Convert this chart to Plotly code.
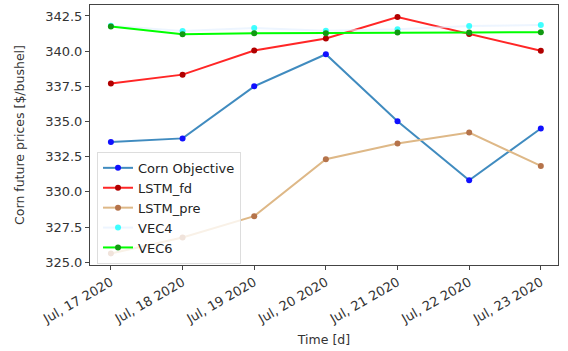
import plotly.graph_objects as go

# Daily corn futures: observed price and model forecasts
dates = ["2020-07-17", "2020-07-18", "2020-07-19", "2020-07-20",
         "2020-07-21", "2020-07-22", "2020-07-23"]
tick_labels = ["Jul, 17 2020", "Jul, 18 2020", "Jul, 19 2020", "Jul, 20 2020",
               "Jul, 21 2020", "Jul, 22 2020", "Jul, 23 2020"]
y_ticks = [325.0, 327.5, 330.0, 332.5, 335.0, 337.5, 340.0, 342.5]

corn_objective = [333.55, 333.8, 337.5, 339.78, 335.02, 330.82, 334.5]
lstm_fd = [337.7, 338.33, 340.05, 340.9, 342.43, 341.22, 340.03]
lstm_pre = [325.62, 326.76, 328.27, 332.32, 333.43, 334.22, 331.84]
vec4 = [341.8, 341.43, 341.65, 341.45, 341.55, 341.78, 341.85]
vec6 = [341.75, 341.2, 341.28, 341.28, 341.32, 341.33, 341.35]

series = [
    ("Corn Objective", corn_objective, "rgba(31,119,180,0.85)", "#1010ff"),
    ("LSTM_fd", lstm_fd, "rgba(255,0,0,0.85)", "#b00000"),
    ("LSTM_pre", lstm_pre, "rgba(222,184,135,1)", "#b5734a"),
    ("VEC4", vec4, "rgba(225,238,255,0.6)", "rgba(0,255,255,0.75)"),
    ("VEC6", vec6, "rgba(0,255,0,1)", "#119911"),
]

fig = go.Figure()
for name, values, line_color, marker_color in series:
    fig.add_trace(go.Scatter(
        x=dates, y=values, name=name, mode="lines+markers",
        line=dict(color=line_color, width=2),
        marker=dict(color=marker_color, size=6),
    ))

axis_common = dict(
    showgrid=False, zeroline=False, showline=True, mirror=True,
    linecolor="#444", linewidth=1, ticks="outside", ticklen=4,
    tickcolor="#444", tickfont=dict(size=13, color="#333"),
)

fig.update_layout(
    width=568, height=351,
    margin=dict(l=90, r=10, t=5, b=86),
    paper_bgcolor="white", plot_bgcolor="white",
    font=dict(family="DejaVu Sans", size=12, color="#333"),
    showlegend=True,
    legend=dict(
        x=0.015, y=0.435, xanchor="left", yanchor="top",
        bgcolor="rgba(255,255,255,0.8)", bordercolor="#ddd", borderwidth=1,
        font=dict(size=13, color="#222"), tracegroupgap=0,
    ),
    xaxis=dict(
        **axis_common,
        range=["2020-07-16 17:00", "2020-07-23 05:45"],
        tickvals=dates, ticktext=tick_labels, tickangle=-30,
        title=dict(text="Time [d]", font=dict(size=12.5, color="#333"), standoff=9),
    ),
    yaxis=dict(
        **axis_common,
        range=[324.8, 343.28],
        tickvals=y_ticks, tickformat=".1f",
        title=dict(text="Corn future prices [$/bushel]",
                   font=dict(size=12.5, color="#333"), standoff=17),
    ),
)

fig.write_html("out.html")
